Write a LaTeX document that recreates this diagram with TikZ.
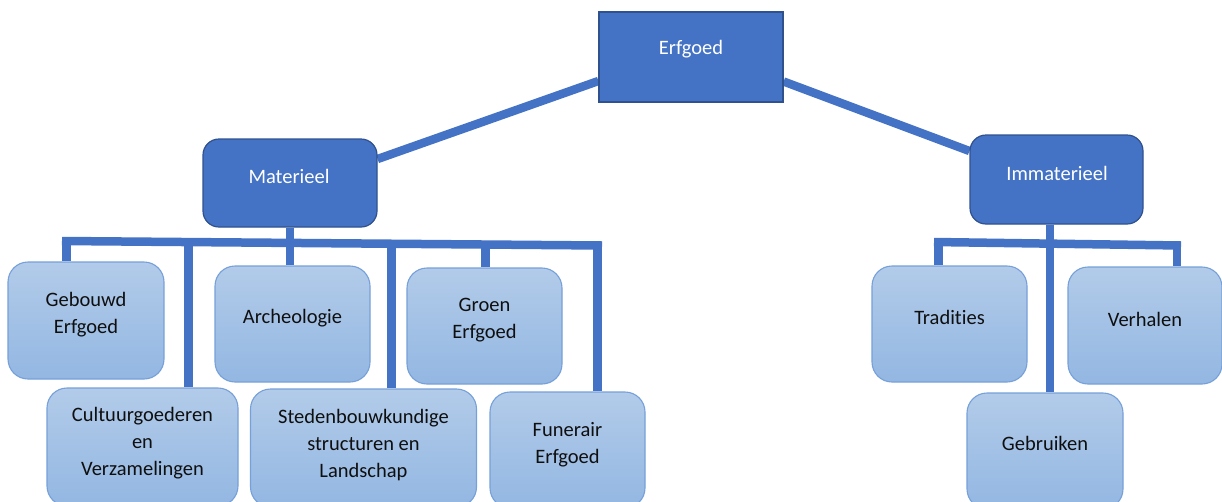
\documentclass[tikz,border=0pt]{standalone}
\usepackage{fontspec}
\setmainfont{Carlito}[Ligatures={NoCommon}]
\usetikzlibrary{backgrounds}
\definecolor{mainblue}{RGB}{68,114,196}
\definecolor{darkedge}{RGB}{47,82,143}
\definecolor{lighttop}{RGB}{178,203,233}
\definecolor{lightbot}{RGB}{147,183,226}
\definecolor{lightedge}{RGB}{118,160,217}
\definecolor{txtdark}{RGB}{15,15,15}
\tikzset{
  x=1pt, y=1pt,
  conn/.style={draw=mainblue, line width=8.5pt},
  darkbox/.style={draw=darkedge, fill=mainblue, line width=1.2pt, inner sep=0pt},
  lightbox/.style={draw=lightedge, top color=lighttop, bottom color=lightbot, line width=1.1pt, rounded corners=20pt, inner sep=0pt},
  lbl/.style={align=center, inner sep=0pt, font=\fontsize{20.5}{27}\selectfont, text=txtdark},
  wlbl/.style={lbl, text=white},
}
\begin{document}
\begin{tikzpicture}
\useasboundingbox (0,0) rectangle (1222,-501);
\clip (0,0) rectangle (1222,-501);
% top level
\node[darkbox, minimum width=184pt, minimum height=90pt] (erf) at (691,-57) {};
\node[wlbl] (erft) at (691,-49) {Erfgoed};
\node[darkbox, rounded corners=16pt, minimum width=174pt, minimum height=88pt] (mat) at (290,-183) {};
\node[wlbl] (matt) at (289,-176) {Materieel};
\node[darkbox, rounded corners=16pt, minimum width=173pt, minimum height=89pt] (imm) at (1056.5,-179.5) {};
\node[wlbl] (immt) at (1057,-173) {Immaterieel};
% materieel children
\node[lightbox, minimum width=156pt, minimum height=117pt] (geb) at (86,-320.5) {};
\node[lbl] (gebt) at (86,-315) {Gebouwd\\Erfgoed};
\node[lightbox, minimum width=155pt, minimum height=116pt] (arc) at (292.5,-324) {};
\node[lbl] (arct) at (292.5,-318) {Archeologie};
\node[lightbox, minimum width=155pt, minimum height=116pt] (gro) at (484.5,-326) {};
\node[lbl] (grot) at (484.5,-320.5) {Groen\\Erfgoed};
\node[lightbox, minimum width=191pt, minimum height=118pt] (cul) at (142.5,-447) {};
\node[lbl] (cult) at (142.5,-443.5) {Cultuurgoederen\\en\\Verzamelingen};
\node[lightbox, minimum width=226pt, minimum height=118pt] (ste) at (363.5,-448) {};
\node[lbl] (stet) at (363.5,-445.5) {Stedenbouwkundige\\structuren en\\Landschap};
\node[lightbox, minimum width=155pt, minimum height=116pt] (fun) at (567.5,-450) {};
\node[lbl] (funt) at (567.5,-444.5) {Funerair\\Erfgoed};
% immaterieel children
\node[lightbox, minimum width=155pt, minimum height=116pt] (tra) at (949.5,-324) {};
\node[lbl] (trat) at (949.5,-317.5) {Tradities};
\node[lightbox, minimum width=154pt, minimum height=117pt] (ver) at (1145,-325.5) {};
\node[lbl] (vert) at (1145,-319.5) {Verhalen};
\node[lightbox, minimum width=156pt, minimum height=116pt] (gbr) at (1045,-451) {};
\node[lbl] (gbrt) at (1045,-443.5) {Gebruiken};
% bus coordinates
\coordinate (mbL) at (62,-241);
\coordinate (mbR) at (602,-245.5);
\coordinate (md1) at (66.5,-241);
\coordinate (md2) at (188.5,-242);
\coordinate (md3) at (290,-243);
\coordinate (md4) at (391.5,-244);
\coordinate (md5) at (485.5,-245);
\coordinate (md6) at (597.5,-245.5);
\coordinate (ibL) at (934,-242);
\coordinate (ibR) at (1181,-245.5);
\coordinate (id1) at (938.5,-242);
\coordinate (id2) at (1050,-243.5);
\coordinate (id3) at (1177,-245.5);
\begin{scope}[on background layer]
\draw[conn] ([yshift=24pt]mat.east) -- ([yshift=-24pt]erf.west);
\draw[conn] ([yshift=-24.5pt]erf.east) -- ([yshift=28.5pt]imm.west);
\draw[conn] (mbL) -- (mbR);
\draw[conn] (md3 |- mat.south) -- (md3 |- arc.north);
\draw[conn] (md1) -- (md1 |- geb.north);
\draw[conn] (md2) -- (md2 |- cul.north);
\draw[conn] (md4) -- (md4 |- ste.north);
\draw[conn] (md5) -- (md5 |- gro.north);
\draw[conn] (md6) -- (md6 |- fun.north);
\draw[conn] (ibL) -- (ibR);
\draw[conn] (id2 |- imm.south) -- (id2 |- gbr.north);
\draw[conn] (id1) -- (id1 |- tra.north);
\draw[conn] (id3) -- (id3 |- ver.north);
\end{scope}
\end{tikzpicture}
\end{document}
